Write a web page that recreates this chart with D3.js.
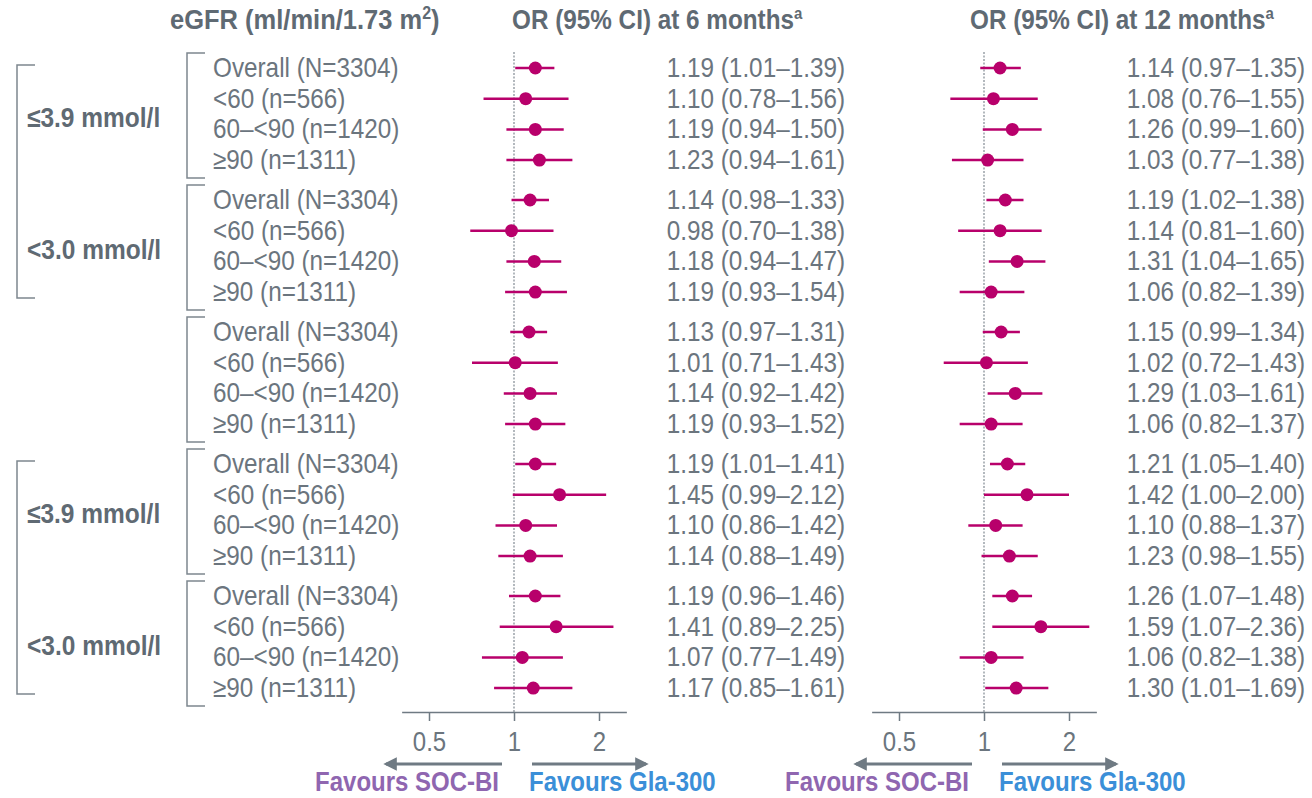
<!DOCTYPE html>
<html>
<head>
<meta charset="utf-8">
<script src="https://cdn.jsdelivr.net/npm/d3@7"></script>
<style>
  body { margin: 0; background: #fff; }
  svg { font-family: "Liberation Sans", Arial, sans-serif; }
  .axis path, .axis line { stroke: #6f7a83; stroke-width: 1.5; }
  .axis text { fill: #6b757e; font-size: 24px; font-family: "Liberation Sans", Arial, sans-serif; }
</style>
</head>
<body>
<svg id="chart"></svg>
<script>
// eGFR subgroups within each block
const subgroups = ['Overall (N=3304)', '<60 (n=566)', '60\u2013<90 (n=1420)', '\u226590 (n=1311)'];
// outer hypoglycaemia threshold labels (block index -> label)
const outerGroups = [
  {label: '\u22643.9 mmol/l', blocks: [0]},
  {label: '<3.0 mmol/l', blocks: [1]},
  {label: '\u22643.9 mmol/l', blocks: [3]},
  {label: '<3.0 mmol/l', blocks: [4]}
];
const outerBrackets = [[0, 1], [3, 4]];
// [OR, lower, upper] per block, per subgroup
const or6 = [
  [[1.19, 1.01, 1.39], [1.10, 0.78, 1.56], [1.19, 0.94, 1.50], [1.23, 0.94, 1.61]],
  [[1.14, 0.98, 1.33], [0.98, 0.70, 1.38], [1.18, 0.94, 1.47], [1.19, 0.93, 1.54]],
  [[1.13, 0.97, 1.31], [1.01, 0.71, 1.43], [1.14, 0.92, 1.42], [1.19, 0.93, 1.52]],
  [[1.19, 1.01, 1.41], [1.45, 0.99, 2.12], [1.10, 0.86, 1.42], [1.14, 0.88, 1.49]],
  [[1.19, 0.96, 1.46], [1.41, 0.89, 2.25], [1.07, 0.77, 1.49], [1.17, 0.85, 1.61]]
];
const or12 = [
  [[1.14, 0.97, 1.35], [1.08, 0.76, 1.55], [1.26, 0.99, 1.60], [1.03, 0.77, 1.38]],
  [[1.19, 1.02, 1.38], [1.14, 0.81, 1.60], [1.31, 1.04, 1.65], [1.06, 0.82, 1.39]],
  [[1.15, 0.99, 1.34], [1.02, 0.72, 1.43], [1.29, 1.03, 1.61], [1.06, 0.82, 1.37]],
  [[1.21, 1.05, 1.40], [1.42, 1.00, 2.00], [1.10, 0.88, 1.37], [1.23, 0.98, 1.55]],
  [[1.26, 1.07, 1.48], [1.59, 1.07, 2.36], [1.06, 0.82, 1.38], [1.30, 1.01, 1.69]]
];
const tickVals = [0.5, 1, 2];
const tickLabels = ['0.5', '1', '2'];
const axisDomain = [0.4, 2.5];

const W = 1312, H = 798;
const grey = '#6b757e', darkGrey = '#5f6a73', magenta = '#b8006b';
const purple = '#8f66b0', blue = '#3b8fd8';

const svg = d3.select('#chart').attr('width', W).attr('height', H);

// arrow marker
svg.append('defs').append('marker')
  .attr('id', 'arrow').attr('viewBox', '0 0 10 10')
  .attr('refX', 8).attr('refY', 5)
  .attr('markerWidth', 4.5).attr('markerHeight', 4.5)
  .attr('orient', 'auto-start-reverse')
  .append('path').attr('d', 'M0,0 L10,5 L0,10 z').attr('fill', '#6f7a83');

// row positions
const rowStep = 30.7, blockStep = 132, firstRow = 68;
const yRow = (b, i) => firstRow + b * blockStep + i * rowStep;
const axisY = 712;

// headers
const hdr = svg.append('g').attr('font-weight', 'bold').attr('fill', darkGrey);
const h1 = hdr.append('text').attr('x', 170).attr('y', 29).attr('font-size', 25.5).text('eGFR (ml/min/1.73 m');
h1.append('tspan').attr('font-size', 16).attr('dy', -9).text('2');
h1.append('tspan').attr('dy', 9).text(')');
const h2 = hdr.append('text').attr('x', 512).attr('y', 29).attr('font-size', 24.3).text('OR (95% CI) at 6 months');
h2.append('tspan').attr('font-size', 15).attr('dy', -9).text('a');
const h3 = hdr.append('text').attr('x', 970).attr('y', 29).attr('font-size', 24.3).text('OR (95% CI) at 12 months');
h3.append('tspan').attr('font-size', 15).attr('dy', -9).text('a');

// brackets
const bracket = (x, y0, y1, len) => `M${x + len},${y0} H${x} V${y1} H${x + len}`;
const brG = svg.append('g').attr('fill', 'none').attr('stroke', '#7d878f').attr('stroke-width', 1.5);
d3.range(5).forEach(b => {
  brG.append('path').attr('d', bracket(187, yRow(b, 0) - 15, yRow(b, 3) + 18, 18));
});
outerBrackets.forEach(([b0, b1]) => {
  brG.append('path').attr('d', bracket(17, yRow(b0, 0) - 3, yRow(b1, 3) + 6, 18));
});

// outer labels
svg.append('g').selectAll('text').data(outerGroups).join('text')
  .attr('x', 27)
  .attr('y', d => (yRow(d.blocks[0], 0) + yRow(d.blocks[0], 3)) / 2 + 3)
  .attr('dy', '0.35em')
  .attr('font-weight', 'bold').attr('font-size', 24.5).attr('fill', darkGrey)
  .text(d => d.label);

// flatten rows
const rows = [];
d3.range(5).forEach(b => subgroups.forEach((s, i) => {
  rows.push({b, i, label: s, m6: or6[b][i], m12: or12[b][i]});
}));

svg.append('g').selectAll('text').data(rows).join('text')
  .attr('x', 213).attr('y', d => yRow(d.b, d.i)).attr('dy', '0.33em')
  .attr('font-size', 24.3).attr('fill', grey)
  .text(d => d.label);

const fmt = d3.format('.2f');
const ciText = v => `${fmt(v[0])} (${fmt(v[1])}\u2013${fmt(v[2])})`;

function panel(x1, key, textRight) {
  const pxPerLog2 = 85;
  const x = d3.scaleLog().domain(axisDomain)
    .range(axisDomain.map(v => x1 + pxPerLog2 * Math.log2(v)));

  const g = svg.append('g');
  // reference line at OR = 1
  g.append('line')
    .attr('x1', x(1)).attr('x2', x(1)).attr('y1', 52).attr('y2', axisY)
    .attr('stroke', '#8a939a').attr('stroke-width', 1.3).attr('stroke-dasharray', '2,1.5');

  const axis = d3.axisBottom(x).tickValues(tickVals)
    .tickFormat((d, i) => tickLabels[i]).tickSize(9).tickSizeOuter(0).tickPadding(11);
  g.append('g').attr('class', 'axis').attr('transform', `translate(0,${axisY})`).call(axis);

  const r = g.selectAll('g.row').data(rows).join('g').attr('class', 'row')
    .attr('transform', d => `translate(0,${yRow(d.b, d.i)})`);
  r.append('line')
    .attr('x1', d => x(d[key][1])).attr('x2', d => x(d[key][2]))
    .attr('stroke', magenta).attr('stroke-width', 2.5);
  r.append('circle').attr('cx', d => x(d[key][0])).attr('r', 6.5).attr('fill', magenta);
  r.append('text').attr('x', textRight).attr('dy', '0.33em')
    .attr('text-anchor', 'end').attr('font-size', 24.3).attr('fill', grey)
    .text(d => ciText(d[key]));

  // favours arrows
  const ay = 764;
  g.append('line').attr('x1', x(1) - 12).attr('x2', x(1) - 128).attr('y1', ay).attr('y2', ay)
    .attr('stroke', '#6f7a83').attr('stroke-width', 3).attr('marker-end', 'url(#arrow)');
  g.append('line').attr('x1', x(1) + 18).attr('x2', x(1) + 132).attr('y1', ay).attr('y2', ay)
    .attr('stroke', '#6f7a83').attr('stroke-width', 3).attr('marker-end', 'url(#arrow)');
  g.append('text').attr('x', x(1) - 15).attr('y', 791).attr('text-anchor', 'end')
    .attr('font-weight', 'bold').attr('font-size', 24).attr('fill', purple).text('Favours SOC-BI');
  g.append('text').attr('x', x(1) + 15).attr('y', 791)
    .attr('font-weight', 'bold').attr('font-size', 24).attr('fill', blue).text('Favours Gla-300');
}

panel(514, 'm6', 845);
panel(984, 'm12', 1305);

// the source glyphs are slightly taller than wide: stretch every text vertically
svg.selectAll('text').each(function() {
  const t = d3.select(this);
  const tx = +t.attr('x') || 0, ty = +t.attr('y') || 0;
  t.attr('x', 0).attr('y', 0)
    .attr('transform', `translate(${tx},${ty}) scale(1,1.12)`);
});
</script>
</body>
</html>
